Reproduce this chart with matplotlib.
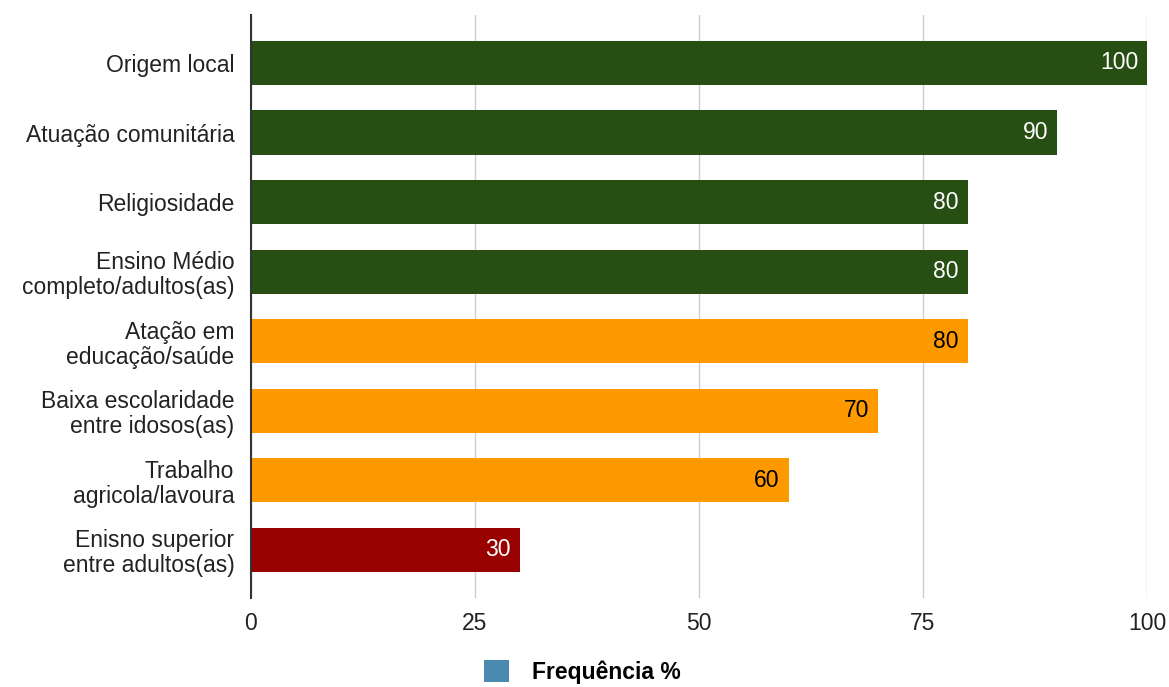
import matplotlib.pyplot as plt
from matplotlib.patches import Patch

plt.rcParams['font.family'] = ['Liberation Sans', 'DejaVu Sans']

categories = ['Origem local', 'Atuação comunitária', 'Religiosidade',
              'Ensino Médio\ncompleto/adultos(as)', 'Atação em\neducação/saúde',
              'Baixa escolaridade\nentre idosos(as)', 'Trabalho\nagricola/lavoura',
              'Enisno superior\nentre adultos(as)']
values = [100, 90, 80, 80, 80, 70, 60, 30]
groups = ['g', 'g', 'g', 'g', 'o', 'o', 'o', 'r']
ticks = [0, 25, 50, 75, 100]

COLORS = {'g': '#274e13', 'o': '#ff9900', 'r': '#990000'}
TEXT_COLORS = {'g': 'white', 'o': 'black', 'r': 'white'}

fig = plt.figure(figsize=(11.69, 6.87), dpi=100)
ax = fig.add_axes([0.2147, 0.1296, 0.7665, 0.8486])

pos = list(range(len(categories)))
bars = ax.barh(pos, values, height=0.635,
               color=[COLORS[g] for g in groups], zorder=3)

for b, v, g in zip(bars, values, groups):
    ax.text(v - 1.0, b.get_y() + b.get_height() / 2, str(v),
            ha='right', va='center', fontsize=16.5, color=TEXT_COLORS[g], zorder=4)

ax.set_ylim(len(categories) - 1 + 0.69, -0.69)
ax.set_xlim(0, 100)
ax.set_yticks(pos)
ax.set_yticklabels(categories, fontsize=16.5, linespacing=1.1)
ax.set_xticks(ticks)
ax.set_xticklabels([str(t) for t in ticks], fontsize=16.5)
ax.tick_params(axis='both', length=0, colors='#222222')
ax.tick_params(axis='y', pad=12)
ax.tick_params(axis='x', pad=10)

ax.grid(axis='x', color='#cccccc', linewidth=1, zorder=0)
for s in ['top', 'right', 'bottom']:
    ax.spines[s].set_visible(False)
ax.spines['left'].set_color('#333333')
ax.spines['left'].set_linewidth(1.5)
ax.spines['left'].set_zorder(5)

handle = Patch(facecolor='#4a8ab0', edgecolor='none')
leg = fig.legend([handle], ['Frequência %'], loc='center', bbox_to_anchor=(0.498, 0.022),
                 frameon=False, prop={'weight': 'bold', 'size': 16.5},
                 handlelength=1.1, handleheight=1.1, handletextpad=1.0,
                 borderpad=0.1)

fig.savefig('out.png', dpi=100)
